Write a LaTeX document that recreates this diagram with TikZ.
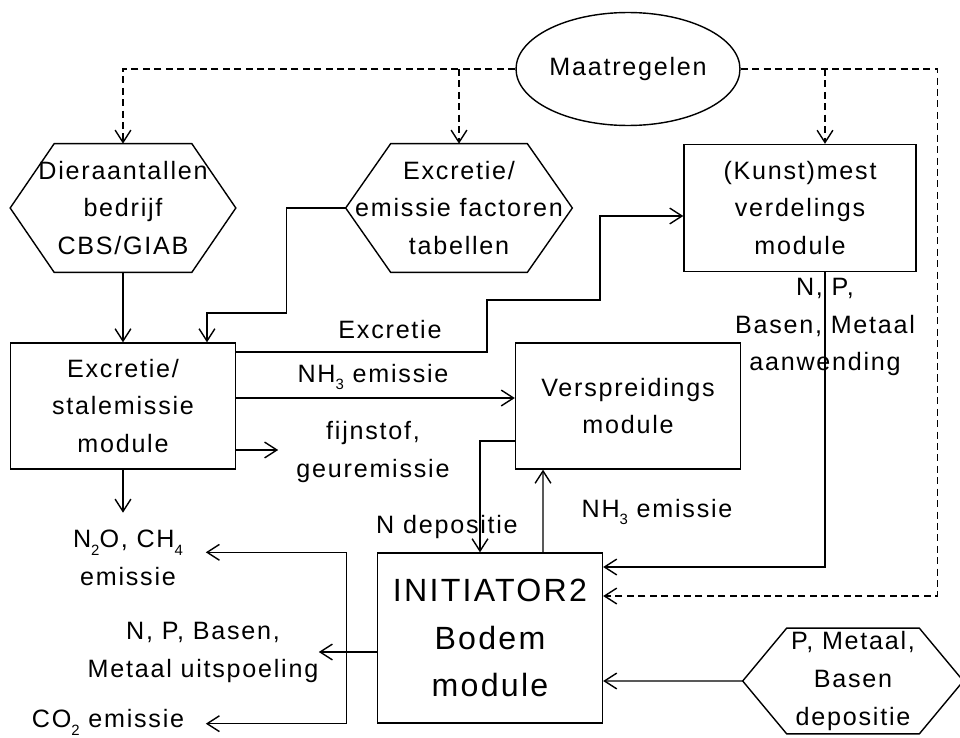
\documentclass[tikz,border=0pt]{standalone}
\usepackage{fontspec}
\setmainfont{Liberation Sans}[LetterSpace=7]
\usepackage{tikz}
\usetikzlibrary{shapes.geometric, arrows.meta, positioning}

\tikzset{
    module/.style={draw, rectangle, line width=0.8pt, align=center, inner sep=0pt},
    hexnode/.style={rectangle, align=center, inner sep=0pt},
    lbl/.style={align=center, inner sep=0pt},
    arr/.style={line width=0.8pt, -{Straight Barb[length=7pt,width=9pt]}},
    dasharr/.style={arr, dash pattern=on 4pt off 2.5pt}
}

% low, small subscript as in the original
\newcommand{\lowsub}[1]{\raisebox{-4.5pt}{\fontsize{8.5pt}{8.5pt}\selectfont #1}}

% outline of a stretched hexagon round a node
\newcommand{\hexoutline}[2]{%
    \draw[line width=0.8pt] (#1.west) -- ([xshift=#2]#1.north west) -- ([xshift=-#2]#1.north east)
        -- (#1.east) -- ([xshift=-#2]#1.south east) -- ([xshift=#2]#1.south west) -- cycle;}

\begin{document}
\begin{tikzpicture}[x=0.02cm, y=-0.02cm, font=\fontsize{14.3pt}{21.6pt}\selectfont]
    \useasboundingbox (0,0) rectangle (960,737);

    % inputs
    \node[draw, ellipse, line width=0.8pt, minimum width=4.48cm, minimum height=2.26cm, inner sep=0pt] (maat) at (628,69) {Maatregelen};
    \node[hexnode, minimum width=4.5cm, minimum height=2.56cm] (dier) at (123,208) {Dieraantallen\\bedrijf\\CBS/GIAB};
    \node[hexnode, minimum width=4.52cm, minimum height=2.56cm] (fact) at (459,208) {Excretie/\\emissie factoren\\tabellen};
    \node[hexnode, minimum width=4.4cm, minimum height=2.1cm] (depo) at (853,681) {P, Metaal,\\Basen\\depositie};
    \hexoutline{dier}{0.88cm}
    \hexoutline{fact}{0.9cm}
    \hexoutline{depo}{0.88cm}

    % modules
    \node[module, minimum width=4.64cm, minimum height=2.54cm] (kunst) at (800,208) {(Kunst)mest\\verdelings\\module};
    \node[module, minimum width=4.5cm, minimum height=2.52cm] (stal) at (123,406) {Excretie/\\stalemissie\\module};
    \node[module, minimum width=4.5cm, minimum height=2.52cm] (versp) at (628,406) {Verspreidings\\module};
    \node[module, minimum width=4.5cm, minimum height=3.4cm, font=\fontsize{18.3pt}{27.2pt}\selectfont] (init) at (490,638) {INITIATOR2\\Bodem\\module};

    % labels
    \node[lbl] (lexcr) at (390,330) {Excretie};
    \node[lbl] (lnha) at (373,377) {NH\lowsub{3} emissie};
    \node[lbl] (lfijn) at (373,452) {fijnstof,\\geuremissie};
    \node[lbl] (lnch) at (128,558) {N\lowsub{2}O, CH\lowsub{4}\\emissie};
    \node[lbl] (laanw) at (825,327) {N, P,\\Basen, Metaal\\aanwending};
    \node[lbl] (lndep) at (447,527) {N depositie};
    \node[lbl] (lnhb) at (657,512) {NH\lowsub{3} emissie};
    \node[lbl] (luits) at (203,652) {N, P, Basen,\\Metaal uitspoeling};
    \node[lbl] (lco) at (108,722) {CO\lowsub{2} emissie};

    % measures (dashed)
    \coordinate (kdrop) at ([xshift=0.5cm]kunst.north);
    \draw[dasharr] (maat.west) -| (dier.north);
    \draw[dasharr] (fact.north |- maat.west) -- (fact.north);
    \draw[dasharr] (maat.east) -- ++(197,0) |- ([yshift=0.84cm]init.east);
    \draw[dasharr] (kdrop |- maat.east) -- (kdrop);

    % flows
    \draw[arr] (dier.south) -- (stal.north);
    \draw[arr] (fact.west) -- ++(-59,0) -- ++(0,105) -| ([xshift=1.68cm]stal.north);
    \draw[arr] ([yshift=1.08cm]stal.east) -- ++(251,0) -- ++(0,-52) -- ++(113,0) |- ([yshift=-0.16cm]kunst.west);
    \draw[arr] ([yshift=0.16cm]stal.east) -- ([yshift=0.16cm]versp.west);
    \draw[arr] ([yshift=-0.88cm]stal.east) -- ++(42,0);
    \draw[arr] (stal.south) -- ++(0,43);
    \draw[arr] ([xshift=0.5cm]kunst.south) |- ([yshift=1.42cm]init.east);
    \draw[arr] ([yshift=-0.7cm]versp.west) -| ([xshift=-0.2cm]init.north);
    \draw[arr] ([xshift=1.06cm]init.north) -- ([xshift=-1.7cm]versp.south);
    \draw[arr] (depo.west) -- ([yshift=-0.86cm]init.east);

    % outputs of the soil module
    \draw[arr] ([yshift=-0.28cm]init.west) -- ++(-58,0);
    \draw ([xshift=-0.6cm]init.north west) -- ([xshift=-0.6cm]init.south west);
    \draw[arr] ([xshift=-0.6cm]init.north west) -- ++(-141,0);
    \draw[arr] ([xshift=-0.6cm]init.south west) -- ++(-141,0);
\end{tikzpicture}
\end{document}
